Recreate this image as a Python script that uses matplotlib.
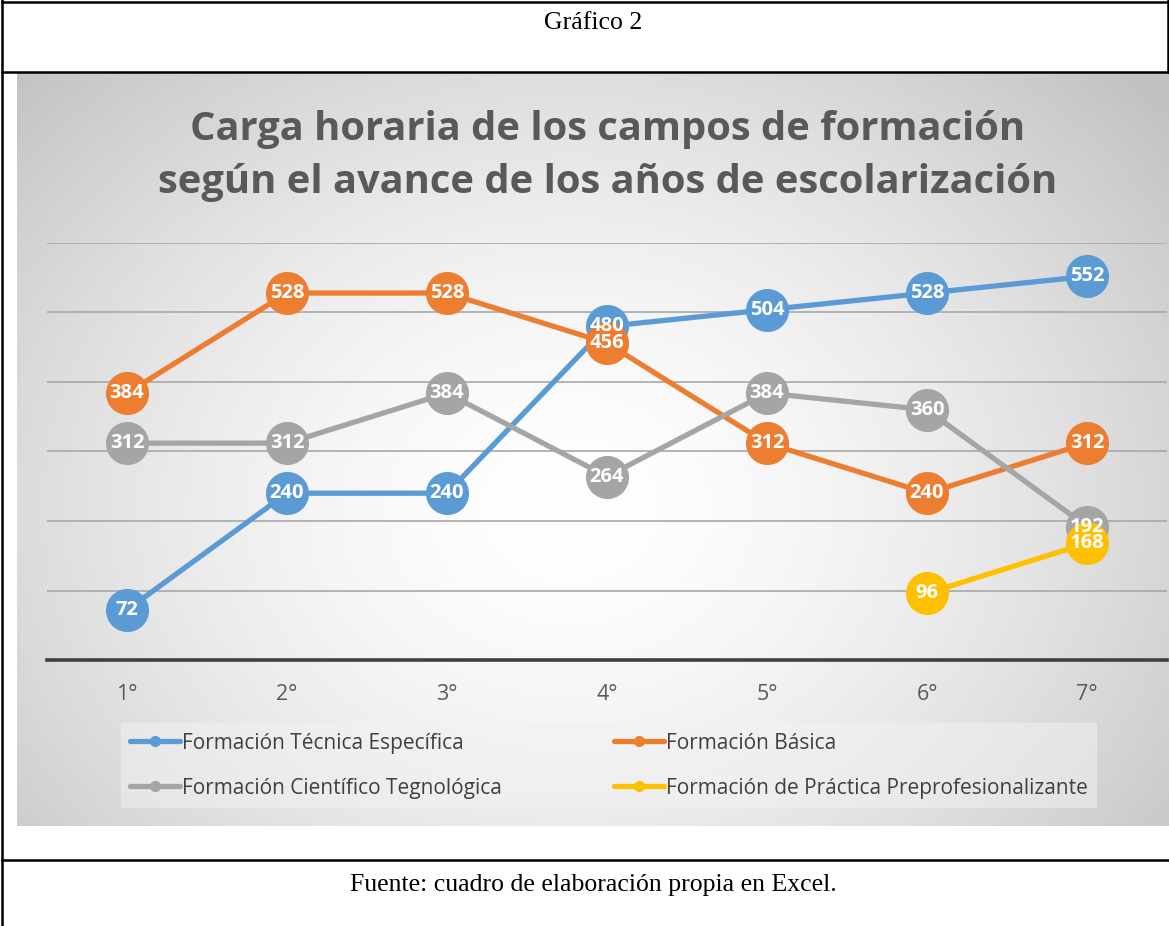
import numpy as np
import matplotlib.pyplot as plt
from matplotlib.lines import Line2D

# data
years = ["1°", "2°", "3°", "4°", "5°", "6°", "7°"]
tecnica = [72, 240, 240, 480, 504, 528, 552]
basica = [384, 528, 528, 456, 312, 240, 312]
cientifico = [312, 312, 384, 264, 384, 360, 192]
practica = [None, None, None, None, None, 96, 168]

series = [
    ("Formación Técnica Específica", tecnica, "#5B9BD5"),
    ("Formación Básica", basica, "#ED7D31"),
    ("Formación Científico Tegnológica", cientifico, "#A5A5A5"),
    ("Formación de Práctica Preprofesionalizante", practica, "#FFC000"),
]

W, H = 1169, 926
fig = plt.figure(figsize=(W / 100, H / 100), dpi=100)
fig.patch.set_facecolor("white")

def fx(px):
    return px / W

def fy(py):
    return 1 - py / H

# chart background with radial gradient
bg = fig.add_axes([fx(17), fy(826), fx(1169 - 17), (826 - 73) / H])
gx, gy = np.meshgrid(np.linspace(0, 1, 400), np.linspace(0, 1, 300))
r = np.sqrt(((gx - 0.48) / 0.6) ** 2 + ((gy - 0.42) / 0.75) ** 2)
shade = np.clip(1 - 0.2 * r ** 1.6, 0.76, 1)
bg.imshow(np.dstack([shade] * 3), extent=[0, 1, 0, 1], aspect="auto", origin="lower")
bg.set_axis_off()

# plot area
ax = fig.add_axes([fx(47), fy(660), fx(1167 - 47), (660 - 243) / H])
ax.set_facecolor("none")
x = np.arange(1, len(years) + 1)
for name, vals, col in series:
    v = np.array([np.nan if a is None else a for a in vals], dtype=float)
    ax.plot(x, v, color=col, lw=3.8, marker="o", ms=30, mec=col, mfc=col,
            clip_on=False, zorder=3, solid_capstyle="round")
    for xi, yi in zip(x, v):
        if not np.isnan(yi):
            ax.text(xi, yi, f"{int(yi)}", ha="center", va="center", color="white",
                    fontsize=14.5, fontweight="bold", family="Open Sans", zorder=5)

ax.set_xlim(0.5, 7.5)
ax.set_ylim(0, 600)
ax.set_yticks(range(100, 601, 100))
ax.yaxis.grid(True, color="#a8a8a8", lw=1.2)
ax.set_axisbelow(True)
ax.tick_params(axis="y", left=False, labelleft=False)
ax.set_xticks(x)
ax.set_xticklabels(years, fontsize=15.5, color="#595959", family="Open Sans")
ax.tick_params(axis="x", length=0, pad=17)
for s in ["top", "right", "left"]:
    ax.spines[s].set_visible(False)
ax.spines["bottom"].set_color("#404040")
ax.spines["bottom"].set_linewidth(2.6)

# title
fig.text(fx(608), fy(156), "Carga horaria de los campos de formación\nsegún el avance de los años de escolarización",
         ha="center", va="center", fontsize=28.7, fontweight="bold", color="#595959",
         family="Open Sans", linespacing=1.45)

# legend
handles = [Line2D([0], [0], color=c, lw=3.8, marker="o", ms=7, solid_capstyle="round")
           for _, _, c in series]
labels = [n for n, _, _ in series]
order = [0, 2, 1, 3]
leg = fig.legend([handles[i] for i in order], [labels[i] for i in order],
                 ncol=2, mode="expand", loc="lower left",
                 bbox_to_anchor=(fx(121), fy(808), fx(1097 - 121), (808 - 722) / H),
                 prop={"family": "Open Sans", "size": 15}, labelcolor="#404040",
                 frameon=True, fancybox=False, handlelength=2.4, handletextpad=0.1,
                 borderpad=0.45, labelspacing=1.15, borderaxespad=0)
leg.get_frame().set_facecolor("#f2f2f2")
leg.get_frame().set_alpha(0.5)
leg.get_frame().set_edgecolor("none")

# table frame and captions
for yy in [2, 72, 860]:
    fig.add_artist(Line2D([fx(2), fx(1168)], [fy(yy), fy(yy)], color="black", lw=1.8))
fig.add_artist(Line2D([fx(2), fx(2)], [fy(0), fy(926)], color="black", lw=1.8))
fig.add_artist(Line2D([fx(1168), fx(1168)], [fy(0), fy(72)], color="black", lw=1.8))
fig.text(fx(593), fy(23), "Gráfico 2", ha="center", va="center", fontsize=18.5,
         family="Liberation Serif")
fig.text(fx(593), fy(885), "Fuente: cuadro de elaboración propia en Excel.", ha="center",
         va="center", fontsize=18.5, family="Liberation Serif")

fig.savefig("out.png", dpi=100)
